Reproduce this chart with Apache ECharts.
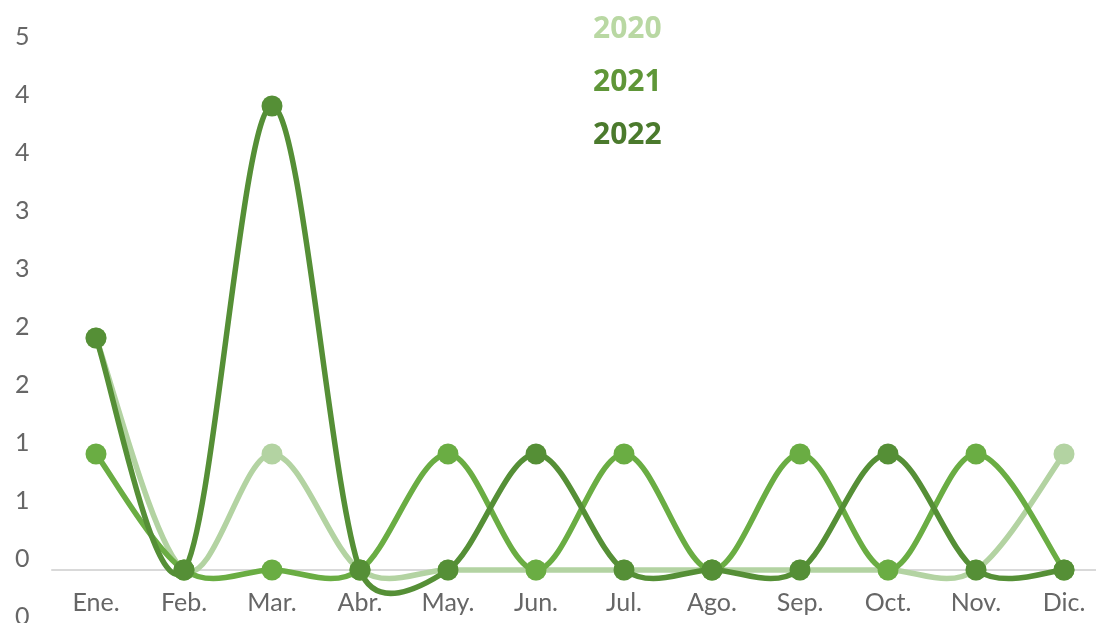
<!DOCTYPE html>
<html>
<head>
<meta charset="utf-8">
<script src="https://cdn.jsdelivr.net/npm/echarts@6/dist/echarts.min.js"></script>
<style>
  html, body { margin: 0; padding: 0; background: #fff; }
  #chart { width: 1096px; height: 623px; }
</style>
</head>
<body>
<div id="chart"></div>
<script>
// datos
const meses = ['Ene.', 'Feb.', 'Mar.', 'Abr.', 'May.', 'Jun.', 'Jul.', 'Ago.', 'Sep.', 'Oct.', 'Nov.', 'Dic.'];
const anios = ['2020', '2021', '2022'];
const datos2020 = [2, 0, 1, 0, 0, 0, 0, 0, 0, 0, 0, 1];
const datos2021 = [1, 0, 0, 0, 1, 0, 1, 0, 1, 0, 1, 0];
const datos2022 = [2, 0, 4, 0, 0, 1, 0, 0, 0, 1, 0, 0];

const coloresLinea = ['#b3d3a2', '#6aad43', '#558f36'];
const coloresLeyenda = ['#b9d8a3', '#5f9638', '#4b7a2d'];
const valores = [datos2020, datos2021, datos2022];

const chart = echarts.init(document.getElementById('chart'));
const fuente = 'Lato, "Open Sans", sans-serif';

// curva suavizada tipo Excel (bezier entre puntos consecutivos)
function tramo(vals, color) {
    return function (params, api) {
        const i = params.dataIndex;
        const n = vals.length;
        if (i >= n - 1) return null;
        const p = k => api.coord([Math.min(Math.max(k, 0), n - 1), vals[Math.min(Math.max(k, 0), n - 1)]]);
        const p0 = p(i - 1), p1 = p(i), p2 = p(i + 1), p3 = p(i + 2);
        const dist = (a, b) => Math.hypot(a[0] - b[0], a[1] - b[1]);
        const d02 = dist(p0, p2), d12 = dist(p1, p2), d13 = dist(p1, p3);
        let f1 = 1 / 6, f2 = 1 / 6;
        if (d02 / 6 >= d12 / 2 && d02 > 0) f1 = d12 / 2 / d02;
        if (d13 / 6 >= d12 / 2 && d13 > 0) f2 = d12 / 2 / d13;
        return {
            type: 'bezierCurve',
            shape: {
                x1: p1[0], y1: p1[1],
                x2: p2[0], y2: p2[1],
                cpx1: p1[0] + (p2[0] - p0[0]) * f1,
                cpy1: p1[1] + (p2[1] - p0[1]) * f1,
                cpx2: p2[0] - (p3[0] - p1[0]) * f2,
                cpy2: p2[1] - (p3[1] - p1[1]) * f2
            },
            style: { stroke: color, lineWidth: 5.5, fill: null, lineCap: 'round' }
        };
    };
}

const series = [];
valores.forEach((vals, i) => {
    const puntos = vals.map((v, k) => [k, v]);
    series.push({
        name: anios[i],
        type: 'custom',
        data: puntos,
        encode: { x: 0, y: 1 },
        renderItem: tramo(vals, coloresLinea[i]),
        z: 2 + i * 2,
        silent: true
    });
    series.push({
        name: anios[i],
        type: 'scatter',
        data: puntos,
        symbol: 'circle',
        symbolSize: 21,
        itemStyle: { color: coloresLinea[i], opacity: 1 },
        z: 3 + i * 2
    });
});

chart.setOption({
    animation: false,
    grid: { left: 52, right: -12, top: 48, bottom: -5, containLabel: false, outerBoundsMode: 'none' },
    legend: {
        orient: 'vertical',
        left: 583,
        top: 9,
        icon: 'none',
        itemWidth: 0,
        itemHeight: 30,
        itemGap: 23,
        selectedMode: false,
        textStyle: { fontFamily: '"Open Sans", sans-serif', fontSize: 30, fontWeight: 'bold', padding: 0 },
        data: anios.map((a, i) => ({ name: a, textStyle: { color: coloresLeyenda[i] } }))
    },
    xAxis: {
        type: 'category',
        data: meses,
        boundaryGap: true,
        offset: -58,
        axisLine: { onZero: false, lineStyle: { color: '#d9d9d9', width: 2 } },
        axisTick: { show: false },
        axisLabel: { color: '#666666', fontSize: 25, fontFamily: fuente, margin: 20 }
    },
    yAxis: {
        type: 'value',
        min: -0.5,
        max: 4.5,
        interval: 0.5,
        splitLine: { show: false },
        axisLine: { show: false },
        axisTick: { show: false },
        axisLabel: {
            color: '#666666',
            fontSize: 25,
            fontFamily: fuente,
            align: 'left',
            verticalAlign: 'bottom',
            lineHeight: 22,
            margin: 37,
            formatter: v => String(Math.abs(Math.round(v)))
        }
    },
    series: series
});
</script>
</body>
</html>
